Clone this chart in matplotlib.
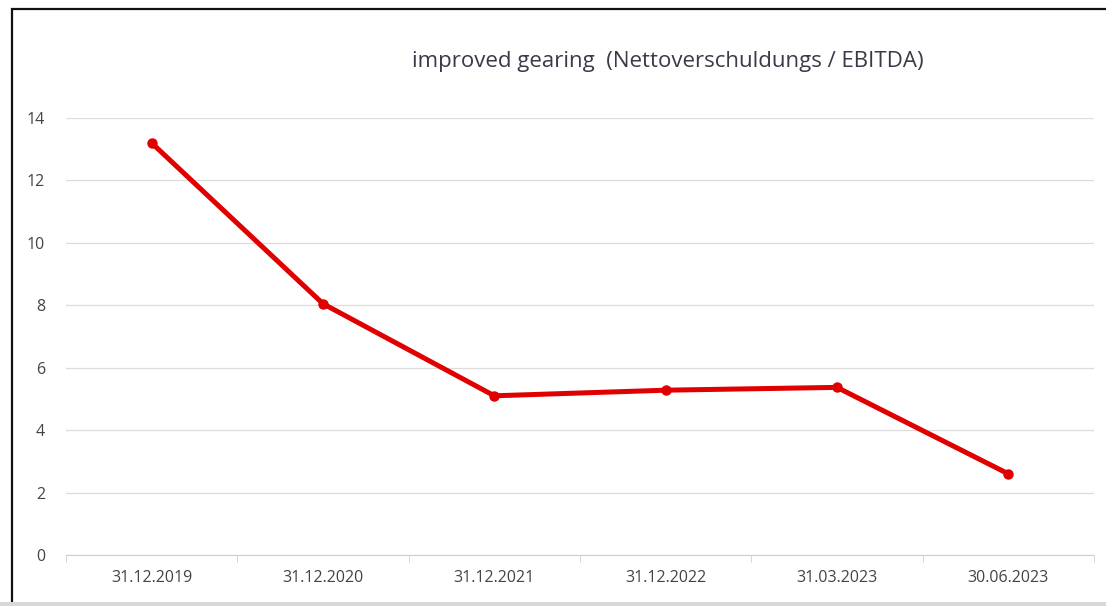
import matplotlib.pyplot as plt
from matplotlib.patches import Rectangle

plt.rcParams['font.family'] = ['Open Sans', 'DejaVu Sans']

dates = ['31.12.2019', '31.12.2020', '31.12.2021', '31.12.2022', '31.03.2023', '30.06.2023']
gearing = [13.2, 8.05, 5.1, 5.28, 5.37, 2.6]
yticks = [0, 2, 4, 6, 8, 10, 12, 14]

W, H = 1106, 606
fig = plt.figure(figsize=(W / 100, H / 100), dpi=100)
# plot area in pixels: x 66..1094, y 118(=14)..555(=0)
ax = fig.add_axes([66 / W, 1 - 555 / H, (1094 - 66) / W, (555 - 118) / H])

x = list(range(len(dates)))
ax.plot(x, gearing, color='#e00000', lw=3.6, marker='o', ms=6.5, solid_capstyle='round', zorder=3)

ax.set_xlim(-0.5, len(dates) - 0.5)
ax.set_ylim(0, 14)
ax.set_yticks(yticks)
ax.set_xticks(x)
ax.set_xticklabels(dates)
ax.set_xticks([i - 0.5 for i in range(len(dates) + 1)], minor=True)

ax.grid(axis='y', color='#dcdcdc', lw=0.9)
ax.set_axisbelow(True)
for s in ['top', 'right', 'left']:
    ax.spines[s].set_visible(False)
ax.spines['bottom'].set_color('#cfcfcf')
ax.tick_params(axis='y', length=0, pad=15, labelsize=11.5, labelcolor='#444444')
ax.tick_params(axis='x', which='major', length=0, pad=11, labelsize=11.5, labelcolor='#444444')
ax.tick_params(axis='x', which='minor', length=5, color='#cfcfcf')

fig.text(668 / W, 1 - 62 / H, 'improved gearing  (Nettoverschuldungs / EBITDA)',
         ha='center', va='center', fontsize=16, color='#3a3a48')

# outer frame like the screenshot
fig.patches.append(Rectangle((12 / W, 0), 1.2, 1 - 9 / H, transform=fig.transFigure,
                             fill=False, edgecolor='#111111', lw=1.6))
fig.patches.append(Rectangle((0, 0), 1, 4 / H, transform=fig.transFigure,
                             color='#d8d8d8', lw=0))

fig.savefig('out.png', dpi=100)
